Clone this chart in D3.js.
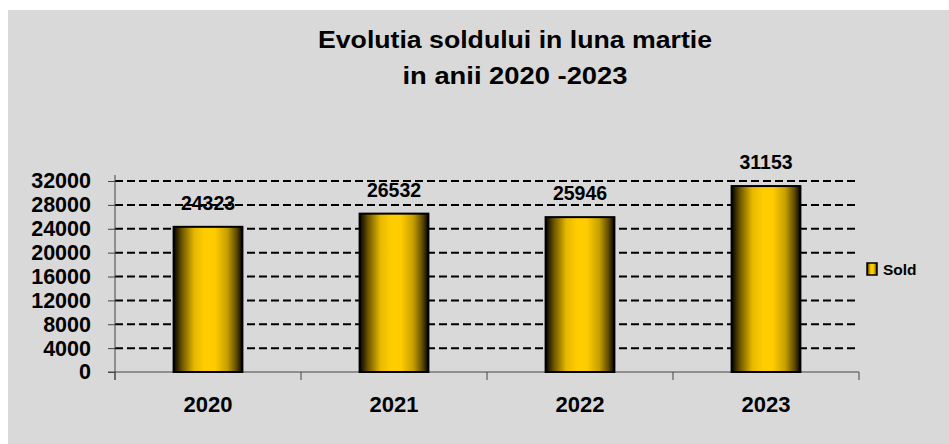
<!DOCTYPE html>
<html>
<head>
<meta charset="utf-8">
<script src="https://cdn.jsdelivr.net/npm/d3@7"></script>
<style>
  html, body { margin: 0; padding: 0; background: #fff; }
  svg { display: block; }
  text { font-family: "Liberation Sans", Arial, sans-serif; font-weight: bold; fill: #000; }
</style>
</head>
<body>
<svg id="chart"></svg>
<script>
/* data */
const years = ["2020", "2021", "2022", "2023"];
const sold = [24323, 26532, 25946, 31153];
const yTicks = [0, 4000, 8000, 12000, 16000, 20000, 24000, 28000, 32000];
const titleLines = ["Evolutia soldului in luna martie", "in anii 2020 -2023"];
const seriesName = "Sold";

/* display parameters */
const width = 949,
  height = 444,
  plot = { left: 115, right: 859, top: 175, bottom: 372 },
  barFrac = 0.37;

let svg = d3.select("#chart").attr("width", width).attr("height", height);

// background
svg.append("rect")
  .attr("x", 8).attr("y", 10)
  .attr("width", width - 8).attr("height", height - 10)
  .attr("fill", "#d9d9d9");

// gradient for the bars
let defs = svg.append("defs");
let grad = defs.append("linearGradient")
  .attr("id", "gold")
  .attr("x1", "0%").attr("x2", "100%")
  .attr("y1", "0%").attr("y2", "0%");
[
  [0, "#000000"], [0.12, "#6b5400"], [0.3, "#e6b800"], [0.45, "#ffcc00"],
  [0.6, "#ffcc00"], [0.78, "#c69f00"], [0.92, "#5a4600"], [1, "#000000"]
].forEach(([o, c]) => grad.append("stop").attr("offset", o).attr("stop-color", c));

/* scales */
const x = d3.scaleBand()
  .domain(years)
  .range([plot.left, plot.right])
  .paddingInner(1 - barFrac)
  .paddingOuter((1 - barFrac) / 2);

const yMax = 32000 * (plot.bottom - plot.top) / (plot.bottom - 181);
const y = d3.scaleLinear()
  .domain([0, yMax])
  .range([plot.bottom, plot.top]);

/* title */
svg.append("g").selectAll("text")
  .data(titleLines)
  .join("text")
  .attr("x", 515)
  .attr("y", (d, i) => 48 + i * 36)
  .attr("text-anchor", "middle")
  .attr("font-size", 23.5)
  .attr("textLength", (d, i) => i === 0 ? 394 : 225)
  .attr("lengthAdjust", "spacingAndGlyphs")
  .text(d => d);

/* gridlines */
svg.append("g")
  .selectAll("line")
  .data(yTicks.filter(d => d > 0))
  .join("line")
  .attr("x1", plot.left).attr("x2", plot.right)
  .attr("y1", d => y(d)).attr("y2", d => y(d))
  .attr("stroke", "#000")
  .attr("stroke-width", 2)
  .attr("stroke-dasharray", "8,4");

/* y axis */
let yAxis = svg.append("g")
  .attr("transform", "translate(" + plot.left + ",0)")
  .call(d3.axisLeft(y).tickValues(yTicks).tickFormat(d3.format("d"))
    .tickSize(7).tickSizeOuter(0).tickPadding(17));
yAxis.select(".domain").attr("stroke", "#444").attr("d", "M0," + plot.top + "V" + (plot.bottom + 8));
yAxis.selectAll(".tick line").attr("stroke", "#444");
yAxis.selectAll(".tick text")
  .attr("font-size", 21.5)
  .attr("font-family", "Liberation Sans, Arial, sans-serif")
  .attr("font-weight", "bold")
  .attr("fill", "#000");

/* x axis */
let xAxis = svg.append("g").attr("transform", "translate(0," + plot.bottom + ")");
xAxis.append("line")
  .attr("x1", plot.left - 7).attr("x2", plot.right)
  .attr("stroke", "#444");
let step = x.step();
let bounds = years.map(d => x(d) - (step - x.bandwidth()) / 2).concat([plot.right]);
xAxis.selectAll(".xtick")
  .data(bounds)
  .join("line")
  .attr("class", "xtick")
  .attr("x1", d => d).attr("x2", d => d)
  .attr("y1", 0).attr("y2", 8)
  .attr("stroke", "#444");
xAxis.selectAll(".xlabel")
  .data(years)
  .join("text")
  .attr("class", "xlabel")
  .attr("x", d => x(d) + x.bandwidth() / 2)
  .attr("y", 40)
  .attr("text-anchor", "middle")
  .attr("font-size", 22)
  .text(d => d);

/* bars */
svg.append("g")
  .selectAll("rect")
  .data(sold)
  .join("rect")
  .attr("x", (d, i) => x(years[i]))
  .attr("y", d => y(d))
  .attr("width", x.bandwidth())
  .attr("height", d => y(0) - y(d))
  .attr("fill", "url(#gold)")
  .attr("stroke", "#000")
  .attr("stroke-width", 2);

/* value labels */
svg.append("g")
  .selectAll("text")
  .data(sold)
  .join("text")
  .attr("x", (d, i) => x(years[i]) + x.bandwidth() / 2)
  .attr("y", d => y(d) - 17)
  .attr("text-anchor", "middle")
  .attr("font-size", 19.5)
  .text(d => d);

/* legend */
let legend = svg.append("g").attr("transform", "translate(867,263)");
legend.append("rect")
  .attr("width", 10).attr("height", 12)
  .attr("fill", "url(#gold)")
  .attr("stroke", "#000")
  .attr("stroke-width", 1.5);
legend.append("text")
  .attr("x", 16).attr("y", 12)
  .attr("font-size", 15.5)
  .text(seriesName);
</script>
</body>
</html>
